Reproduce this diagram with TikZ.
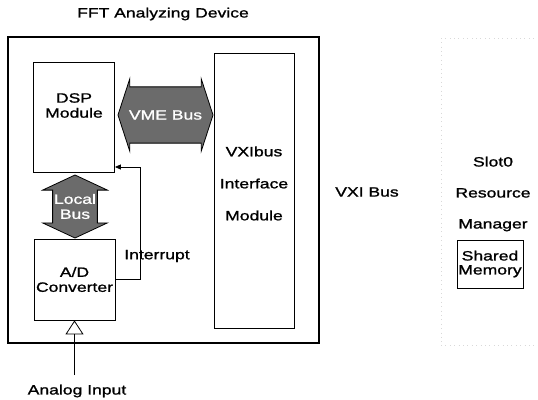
\documentclass[tikz,border=0pt]{standalone}
\usepackage{fontspec}
\setmainfont{Liberation Sans}[FakeStretch=1.3, FakeBold=1.2]
\usetikzlibrary{arrows.meta, positioning, shapes.arrows}

\begin{document}
\begin{tikzpicture}[x=1pt, y=-1pt, font=\fontsize{13.5}{15}\selectfont,
    box/.style={draw, thick, inner sep=1pt},
    bus/.style={double arrow, draw, thick, fill=black!58, text=white, align=center},
    slotbox/.style={draw=black!15, loosely dotted},
    irq/.style={-{Triangle[length=6pt, width=5pt]}, thick},
    ain/.style={-{Triangle[open, length=14pt, width=18pt]}, thick}]
  \useasboundingbox (0,0) rectangle (538,399);

  % analyzer frame
  \node[box, very thick, minimum width=311pt, minimum height=306pt] (device) at (163.5,190) {};
  \node (title) at (163,14) {FFT Analyzing Device};

  \node[box, minimum width=81pt, minimum height=110pt] (dsp) at (74,117) {};
  \node[align=center] (dsptext) at (74,105.5) {DSP\\Module};
  \node[box, minimum width=80pt, minimum height=275pt] (vxi) at (254,190.5) {};
  \node[align=center] (vxitext) at (254,183.5) {VXIbus\\[17pt]Interface\\[17pt]Module};
  \node[box, align=center, minimum width=81pt, minimum height=81pt] (ad) at (74.5,279.5) {A/D\\Converter};

  % buses
  \node[bus, inner xsep=1pt, inner ysep=23pt, minimum height=95pt, double arrow head extend=8pt,
        double arrow tip angle=144] (vme) at (165.5,115) {VME Bus};
  \node[bus, shape border rotate=90, inner xsep=1pt, inner ysep=1pt, minimum height=63pt,
        double arrow head extend=10pt, double arrow tip angle=130] (local) at (75,206.5) {Local\\Bus};

  % interrupt line
  \coordinate (irqbend) at (140,167);
  \draw[irq] (ad.east) -| (irqbend) -- (irqbend -| dsp.east);
  \node (irqtext) at (157,256) {Interrupt};

  \node (analog) at (77,391) {Analog Input};
  \draw[ain, shorten <=6pt] (analog.north -| ad.south) -- (ad.south);

  % VXI side
  \node (vxibus) at (367,192) {VXI Bus};
  \node[slotbox, minimum width=104pt, minimum height=307pt] (slot0) at (493,191.5) {};
  \node[align=center] (slottext) at (493,194) {Slot0\\[16pt]Resource\\[16pt]Manager};
  \node[box, align=center, inner sep=0.5pt, minimum width=66pt, minimum height=48pt] (shm) at (490,264) {Shared\\[-1pt]Memory};
\end{tikzpicture}
\end{document}
